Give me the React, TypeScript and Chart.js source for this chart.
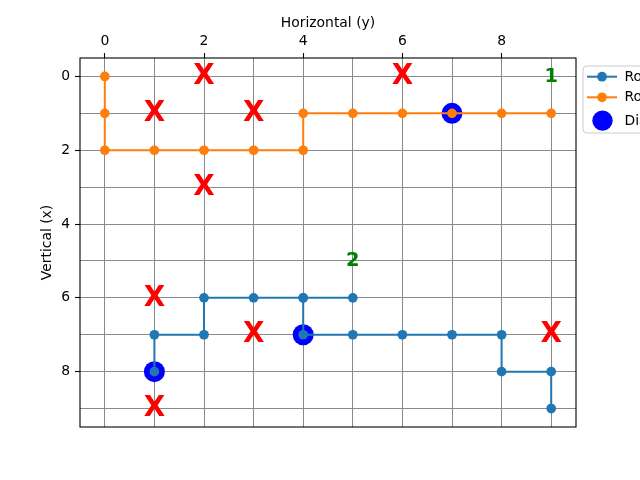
import { useEffect, useRef } from 'react';
import { Chart, registerables } from 'chart.js';

Chart.register(...registerables);

// Route 1 (horizontal = y value, vertical = x value)
const route1H = [1, 1, 2, 2, 3, 4, 5, 4, 4, 5, 6, 7, 8, 8, 9, 9];
const route1V = [8, 7, 7, 6, 6, 6, 6, 6, 7, 7, 7, 7, 7, 8, 8, 9];
// Route 2
const route2H = [0, 0, 0, 1, 2, 3, 4, 4, 5, 6, 7, 8, 9];
const route2V = [0, 1, 2, 2, 2, 2, 2, 1, 1, 1, 1, 1, 1];
// Big blue discs
const discH = [7, 4, 1];
const discV = [1, 7, 8];
// Red X markers
const xMarkH = [2, 6, 1, 3, 2, 1, 3, 9, 1];
const xMarkV = [0, 0, 1, 1, 3, 6, 7, 7, 9];
// Green numbered labels
const labelText = ['1', '2'];
const labelH = [9, 5];
const labelV = [0, 5];
// Axis ticks
const gridValues = [0, 1, 2, 3, 4, 5, 6, 7, 8, 9];
const tickLabels = [0, 2, 4, 6, 8];
const legendLabels = ['Route 1', 'Route 2', 'Diamonds'];

const FONT = '"DejaVu Sans", sans-serif';
const BLUE = '#1f77b4';
const ORANGE = '#ff7f0e';

export default function App() {
  const ref = useRef<HTMLCanvasElement>(null);

  useEffect(() => {
    document.body.style.margin = '0';
    const canvas = ref.current;
    if (!canvas) return;

    const overlay = {
      id: 'overlay',
      afterDatasetsDraw(chart: any) {
        const ctx = chart.ctx;
        const xs = chart.scales.x;
        const ys = chart.scales.y;
        ctx.save();
        ctx.textAlign = 'center';
        ctx.textBaseline = 'alphabetic';
        ctx.fillStyle = '#ff0000';
        ctx.font = `bold 27.8px ${FONT}`;
        xMarkH.forEach((h, i) => {
          ctx.fillText('X', xs.getPixelForValue(h), ys.getPixelForValue(xMarkV[i]) + 7.7);
        });
        ctx.fillStyle = '#008000';
        ctx.font = `bold 19.4px ${FONT}`;
        labelText.forEach((t, i) => {
          ctx.fillText(t, xs.getPixelForValue(labelH[i]), ys.getPixelForValue(labelV[i]) + 5.2);
        });
        // full frame (spines)
        const a = chart.chartArea;
        ctx.strokeStyle = '#000';
        ctx.lineWidth = 1.1;
        ctx.strokeRect(a.left, a.top, a.right - a.left, a.bottom - a.top);
        ctx.restore();
      },
      afterDraw(chart: any) {
        const ctx = chart.ctx;
        ctx.save();
        // legend frame
        const lx = 583;
        const ly = 66;
        const lw = 120;
        const lh = 67;
        const r = 4;
        ctx.beginPath();
        ctx.moveTo(lx + r, ly);
        ctx.lineTo(lx + lw - r, ly);
        ctx.arcTo(lx + lw, ly, lx + lw, ly + r, r);
        ctx.lineTo(lx + lw, ly + lh - r);
        ctx.arcTo(lx + lw, ly + lh, lx + lw - r, ly + lh, r);
        ctx.lineTo(lx + r, ly + lh);
        ctx.arcTo(lx, ly + lh, lx, ly + lh - r, r);
        ctx.lineTo(lx, ly + r);
        ctx.arcTo(lx, ly, lx + r, ly, r);
        ctx.closePath();
        ctx.fillStyle = 'rgba(255,255,255,0.8)';
        ctx.fill();
        ctx.strokeStyle = '#cccccc';
        ctx.lineWidth = 1;
        ctx.stroke();

        const rows = [76.7, 97.3, 120.6];
        const colors = [BLUE, ORANGE];
        colors.forEach((c, i) => {
          ctx.strokeStyle = c;
          ctx.lineWidth = 2;
          ctx.beginPath();
          ctx.moveTo(587, rows[i]);
          ctx.lineTo(617, rows[i]);
          ctx.stroke();
          ctx.fillStyle = c;
          ctx.beginPath();
          ctx.arc(602, rows[i], 4.85, 0, Math.PI * 2);
          ctx.fill();
        });
        ctx.fillStyle = '#0000ff';
        ctx.beginPath();
        ctx.arc(602.5, rows[2], 10.2, 0, Math.PI * 2);
        ctx.fill();

        ctx.fillStyle = '#000';
        ctx.font = `13.9px ${FONT}`;
        ctx.textAlign = 'left';
        ctx.textBaseline = 'middle';
        legendLabels.forEach((t, i) => {
          ctx.fillText(t, 624.5, rows[i] + 0.5);
        });
        ctx.restore();
      },
    };

    const tickFont = { family: FONT, size: 13.9 };
    const gridCfg = {
      color: '#8a8a8a',
      lineWidth: 1,
      tickLength: 5,
      tickWidth: 1.1,
      tickColor: (c: any) =>
        c.tick && tickLabels.includes(c.tick.value) ? '#000' : 'rgba(0,0,0,0)',
    };

    const chart = new Chart(canvas, {
      type: 'scatter',
      data: {
        datasets: [
          {
            label: legendLabels[0],
            data: route1H.map((h, i) => ({ x: h, y: route1V[i] })),
            showLine: true,
            borderColor: BLUE,
            backgroundColor: BLUE,
            borderWidth: 2,
            pointRadius: 4.85,
            pointBorderWidth: 0,
            pointHoverRadius: 4.85,
          },
          {
            label: legendLabels[1],
            data: route2H.map((h, i) => ({ x: h, y: route2V[i] })),
            showLine: true,
            borderColor: ORANGE,
            backgroundColor: ORANGE,
            borderWidth: 2,
            pointRadius: 4.85,
            pointBorderWidth: 0,
            pointHoverRadius: 4.85,
          },
          {
            label: legendLabels[2],
            data: discH.map((h, i) => ({ x: h, y: discV[i] })),
            showLine: false,
            borderColor: '#0000ff',
            backgroundColor: '#0000ff',
            pointRadius: 10.5,
            pointBorderWidth: 0,
            pointHoverRadius: 10.5,
          },
        ],
      },
      options: {
        responsive: false,
        animation: false,
        events: [],
        layout: { padding: { left: 0, top: 0, right: 64, bottom: 53 } },
        plugins: {
          legend: { display: false },
          tooltip: { enabled: false },
        },
        scales: {
          x: {
            type: 'linear',
            position: 'top',
            min: -0.5,
            max: 9.5,
            afterBuildTicks: (ax: any) => {
              ax.ticks = gridValues.map((v) => ({ value: v }));
            },
            afterFit: (s: any) => {
              s.height = 58;
            },
            ticks: {
              autoSkip: false,
              maxRotation: 0,
              padding: 3,
              color: '#000',
              font: tickFont,
              callback: (v: any) => (tickLabels.includes(v) ? String(v) : ''),
            },
            grid: gridCfg,
            border: { display: false },
            title: {
              display: true,
              text: 'Horizontal (y)',
              color: '#000',
              font: tickFont,
              padding: { top: 15.5, bottom: 0 },
            },
          },
          y: {
            type: 'linear',
            position: 'left',
            reverse: true,
            min: -0.5,
            max: 9.5,
            afterBuildTicks: (ax: any) => {
              ax.ticks = gridValues.map((v) => ({ value: v }));
            },
            afterFit: (s: any) => {
              s.width = 80;
            },
            ticks: {
              autoSkip: false,
              padding: 5,
              color: '#000',
              font: tickFont,
              callback: (v: any) => (tickLabels.includes(v) ? String(v) : ''),
            },
            grid: gridCfg,
            border: { display: false },
            title: {
              display: true,
              text: 'Vertical (x)',
              color: '#000',
              font: tickFont,
              padding: { top: 39, bottom: 0 },
            },
          },
        },
      },
      plugins: [overlay],
    });

    return () => chart.destroy();
  }, []);

  return <canvas ref={ref} width={640} height={480} style={{ display: 'block' }} />;
}
